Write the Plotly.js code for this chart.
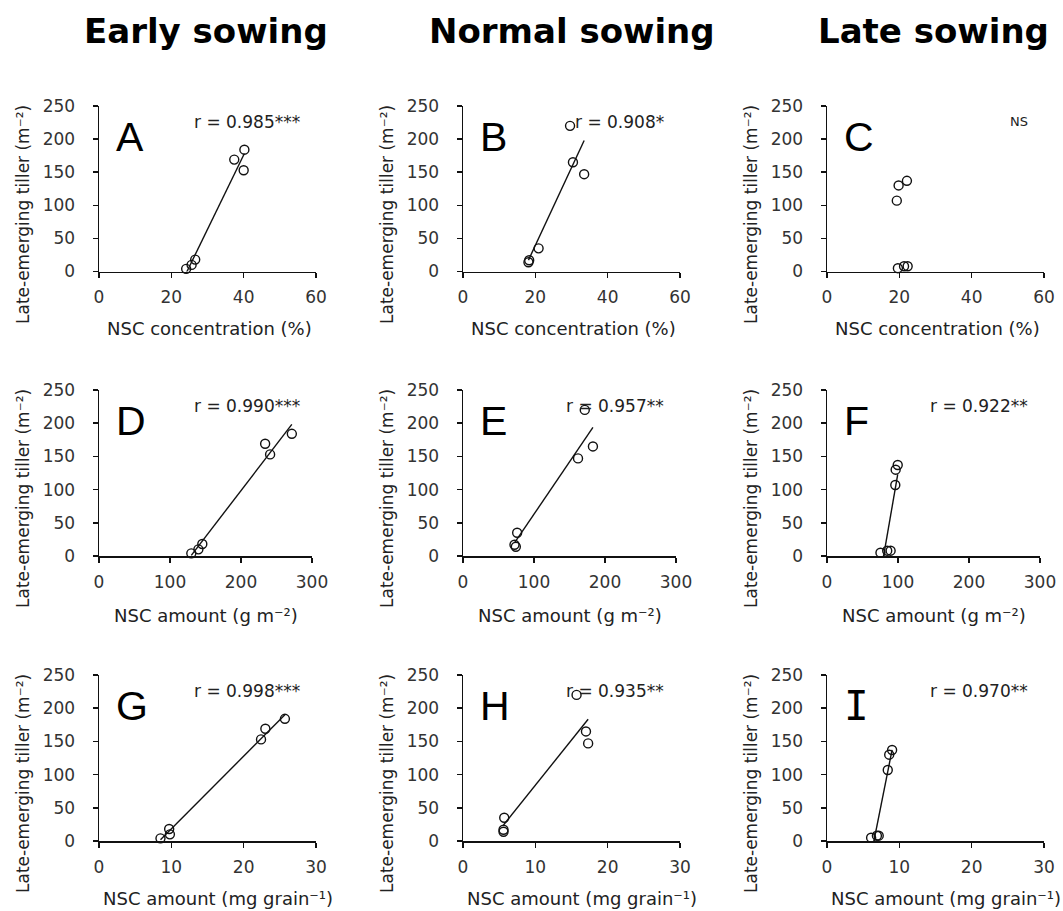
<!DOCTYPE html>
<html>
<head>
<meta charset="utf-8">
<script src="https://cdn.plot.ly/plotly-3.0.1.min.js"></script>
<style>html,body{margin:0;padding:0;background:#fff;}#chart{width:1063px;height:911px;}</style>
</head>
<body>
<div id="chart"></div>
<script>
// Late-emerging tiller (m-2) per sowing date
const earlyTiller  = [4, 10, 18, 153, 169, 184];
const normalTiller = [14, 17, 35, 147, 165, 220];
const lateTiller   = [5, 8, 8, 107, 130, 137];
// NSC concentration (%)
const earlyConc  = [24.1, 25.6, 26.6, 40.0, 37.4, 40.2];
const normalConc = [18.1, 18.3, 20.9, 33.5, 30.4, 29.6];
const lateConc   = [19.6, 21.3, 22.3, 19.3, 19.8, 22.1];
// NSC amount (g m-2)
const earlyAmount  = [130, 140, 145.5, 241, 234, 271.6];
const normalAmount = [74.4, 72.5, 76.3, 162, 183, 171.5];
const lateAmount   = [75.3, 84.8, 89.6, 96.2, 96.7, 99.6];
// NSC amount (mg grain-1)
const earlyGrain  = [8.5, 9.8, 9.7, 22.4, 23.0, 25.7];
const normalGrain = [5.6, 5.6, 5.7, 17.3, 17.0, 15.7];
const lateGrain   = [6.1, 6.9, 7.15, 8.4, 8.6, 9.0];

const columnTitles = ['Early sowing', 'Normal sowing', 'Late sowing'];
const panelLetters = ['A','B','C','D','E','F','G','H','I'];
const statLabels = ['r = 0.985***','r = 0.908*','NS','r = 0.990***','r = 0.957**','r = 0.922**','r = 0.998***','r = 0.935**','r = 0.970**'];
const xTitles = ['NSC concentration (%)', 'NSC amount (g m⁻²)', 'NSC amount (mg grain⁻¹)'];
const yTitle = 'Late-emerging tiller (m⁻²)';
const xMax = [60, 300, 30];
const xStep = [20, 100, 10];
const yTicks = [0, 50, 100, 150, 200, 250];

const xData = [
  [earlyConc, normalConc, lateConc],
  [earlyAmount, normalAmount, lateAmount],
  [earlyGrain, normalGrain, lateGrain]
];
const yData = [earlyTiller, normalTiller, lateTiller];
const showFit = [true, true, false, true, true, true, true, true, true];

// layout geometry (pixels)
const W = 1063, H = 911;
const colLeft = [99, 463, 827];
const rowRight = [[316, 680, 1044], [312, 676, 1040], [316, 680, 1044]];
const rowTop = [106, 390, 675];
const rowBottom = [271.5, 556, 841];
const xTitleOffset = [110, 107, 119];
const xTitleY = [328, 615, 898];

const FONT = 'DejaVu Sans, Verdana, sans-serif';
const px = v => v / W, py = v => 1 - v / H;

function linfit(x, y) {
  const n = x.length;
  const mx = x.reduce((a,b)=>a+b,0)/n, my = y.reduce((a,b)=>a+b,0)/n;
  let sxy = 0, sxx = 0;
  for (let i=0;i<n;i++){ sxy += (x[i]-mx)*(y[i]-my); sxx += (x[i]-mx)*(x[i]-mx); }
  const b = sxy/sxx, a = my - b*mx;
  return {a, b};
}

const traces = [];
const layout = {
  width: W, height: H,
  margin: {l:0, r:0, t:0, b:0},
  paper_bgcolor: '#fff', plot_bgcolor: 'rgba(0,0,0,0)',
  showlegend: false,
  annotations: []
};

for (let r = 0; r < 3; r++) {
  for (let c = 0; c < 3; c++) {
    const k = r*3 + c, idx = k + 1;
    const xa = 'x' + (idx === 1 ? '' : idx), ya = 'y' + (idx === 1 ? '' : idx);
    const xs = xData[r][c], ys = yData[c];
    if (showFit[k]) {
      const f = linfit(xs, ys);
      const x0 = Math.min(...xs), x1 = Math.max(...xs);
      traces.push({x:[x0, x1], y:[f.a + f.b*x0, f.a + f.b*x1], xaxis:xa, yaxis:ya,
        mode:'lines', line:{color:'#111', width:1.4}, hoverinfo:'skip'});
    }
    traces.push({x: xs, y: ys, xaxis:xa, yaxis:ya, mode:'markers', cliponaxis:false,
      marker:{symbol:'circle-open', size:9, color:'#111', line:{width:1.4, color:'#111'}}});

    const axFont = {family: FONT, size: 17, color: '#333'};
    layout['xaxis' + (idx === 1 ? '' : idx)] = {
      domain: [px(colLeft[c]), px(rowRight[r][c])], anchor: ya,
      range: [0, xMax[r]], tick0: 0, dtick: xStep[r],
      showline: true, linecolor: '#111', linewidth: 1.5,
      ticks: 'outside', ticklen: 5, tickwidth: 1.5, tickcolor: '#111',
      ticklabelstandoff: 5,
      showgrid: false, zeroline: false, tickfont: axFont, fixedrange: true
    };
    layout['yaxis' + (idx === 1 ? '' : idx)] = {
      domain: [py(rowBottom[r]), py(rowTop[r])], anchor: xa,
      range: [0, 250], tickvals: yTicks,
      showline: true, linecolor: '#111', linewidth: 1.5,
      ticks: 'outside', ticklen: 5, tickwidth: 1.5, tickcolor: '#111',
      ticklabelstandoff: 14,
      showgrid: false, zeroline: false, tickfont: axFont, fixedrange: true
    };

    // panel letter
    layout.annotations.push({xref:'paper', yref:'paper', x: px(colLeft[c] + 15), y: py(rowTop[r] + 31),
      xanchor:'left', yanchor:'middle', showarrow:false, text: panelLetters[k],
      font:{family: panelLetters[k] === 'I' ? 'DejaVu Sans Mono, monospace' : 'Liberation Sans, Arial, sans-serif', size: 41, color:'#000'}});
    // stat label
    layout.annotations.push({xref:'paper', yref:'paper', x: px(colLeft[c] + 203), y: py(rowTop[r] + 16),
      xanchor:'right', yanchor:'middle', showarrow:false, text: statLabels[k],
      font:{family: FONT, size: statLabels[k] === 'NS' ? 13 : 17, color:'#222'}});
    // x title
    layout.annotations.push({xref:'paper', yref:'paper', x: px(colLeft[c] + xTitleOffset[r]), y: py(xTitleY[r]),
      xanchor:'center', yanchor:'middle', showarrow:false, text: xTitles[r],
      font:{family: FONT, size: 18, color:'#222'}});
    // y title
    layout.annotations.push({xref:'paper', yref:'paper', x: px(colLeft[c] - 76), y: py(rowTop[r] + 109),
      xanchor:'center', yanchor:'middle', showarrow:false, textangle: -90, text: yTitle,
      font:{family: FONT, size: 17, color:'#222'}});
  }
}

const titleCenters = [206, 572, 933];
for (let c = 0; c < 3; c++) {
  layout.annotations.push({xref:'paper', yref:'paper', x: px(titleCenters[c]), y: py(31),
    xanchor:'center', yanchor:'middle', showarrow:false, text: '<b>' + columnTitles[c] + '</b>',
    font:{family: FONT, size: 34, color:'#000'}});
}

Plotly.newPlot('chart', traces, layout, {displayModeBar:false, staticPlot:true});
</script>
</body>
</html>
